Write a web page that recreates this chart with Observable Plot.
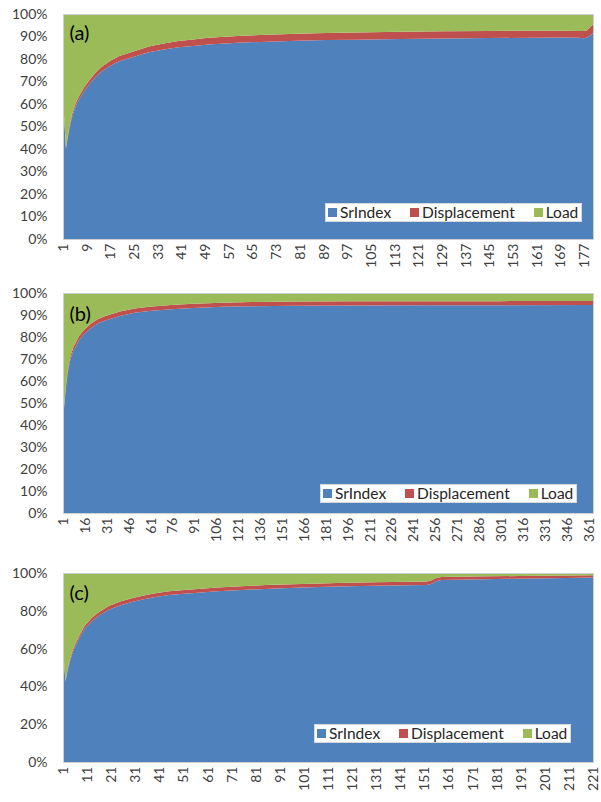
<!DOCTYPE html>
<html>
<head>
<meta charset="utf-8">
<script src="https://cdn.jsdelivr.net/npm/d3@7"></script>
<script src="https://cdn.jsdelivr.net/npm/@observablehq/plot@0.6"></script>
<style>
  html, body { margin: 0; padding: 0; background: #fff; }
  #chart { position: relative; width: 601px; font-family: Lato, "Open Sans", sans-serif; }
  .panel { position: relative; width: 601px; }
  .panel svg { display: block; }
  .legend {
    position: absolute; background: #fff; border: 1px solid #d9d9d9;
    display: flex; align-items: center; font-size: 15.5px; color: #262626;
    padding: 0 3px 0 2px; height: 17px; box-sizing: content-box; line-height: 17px;
  }
  .legend .item { display: flex; align-items: center; }
  .legend .sw { width: 9px; height: 9px; margin-right: 3px; }
</style>
</head>
<body>
<div id="chart"></div>
<script>
// Series drawn in every panel, bottom to top, with their fills
const series = ["SrIndex", "Displacement", "Load"];
const colors = ["#4f81bd", "#c0504d", "#9bbb59"];

// Panel (a): 180 steps, shares in percent at the listed steps
const idxA  = [1, 2, 3, 4, 5, 6, 8, 10, 12, 14, 17, 20, 25, 30, 35, 40, 45, 50, 60, 70, 80, 90, 100, 115, 130, 145, 160, 170, 175, 177, 178, 179, 180];
const srA   = [62, 40, 48, 54, 58, 61, 65.5, 69, 72, 74.5, 77, 79, 81, 83, 84.2, 85.2, 85.8, 86.4, 87.2, 87.7, 88.1, 88.4, 88.6, 88.9, 89.1, 89.3, 89.5, 89.6, 89.5, 89.2, 89.6, 90.5, 91.5];
const dispA = [0.5, 0.5, 1, 1.2, 1.3, 1.4, 1.6, 1.8, 1.9, 2.0, 2.2, 2.3, 2.5, 2.6, 2.7, 2.8, 2.9, 3.0, 3.0, 3.1, 3.1, 3.2, 3.2, 3.2, 3.2, 3.2, 3.1, 3.0, 3.0, 3.3, 3.2, 3.6, 3.8];
const ticksA = [1, 9, 17, 25, 33, 41, 49, 57, 65, 73, 81, 89, 97, 105, 113, 121, 129, 137, 145, 153, 161, 169, 177];

// Panel (b): 364 steps
const idxB  = [1, 2, 3, 4, 5, 6, 8, 10, 12, 15, 20, 25, 30, 40, 50, 60, 75, 90, 110, 130, 160, 200, 250, 300, 364];
const srB   = [42, 50, 57, 62.5, 66.5, 69.5, 73.5, 76, 78.5, 81, 84, 86.2, 87.5, 89.6, 91, 91.8, 92.6, 93.2, 93.7, 94.0, 94.2, 94.3, 94.4, 94.4, 94.5];
const dispB = [0.5, 0.8, 1.0, 1.2, 1.4, 1.5, 1.7, 1.8, 1.9, 2.0, 2.0, 2.0, 2.0, 2.0, 1.9, 1.9, 1.9, 1.9, 1.9, 1.9, 1.9, 1.9, 1.9, 1.9, 1.9];
const ticksB = [1, 16, 31, 46, 61, 76, 91, 106, 121, 136, 151, 166, 181, 196, 211, 226, 241, 256, 271, 286, 301, 316, 331, 346, 361];

// Panel (c): 221 steps
const idxC  = [1, 2, 3, 4, 5, 6, 8, 10, 13, 16, 20, 25, 30, 35, 40, 45, 50, 57, 65, 75, 85, 100, 115, 130, 145, 152, 154, 156, 158, 170, 190, 210, 221];
const srC   = [60, 42.5, 49, 54, 58, 61, 66, 70.5, 74.5, 77.5, 80.5, 83, 84.8, 86.2, 87.4, 88.3, 88.9, 89.6, 90.3, 91.0, 91.6, 92.3, 92.8, 93.2, 93.5, 93.6, 94.3, 95.8, 96.3, 96.6, 97.0, 97.4, 97.6];
const dispC = [0.3, 0.5, 0.8, 1.0, 1.1, 1.2, 1.4, 1.6, 1.8, 1.9, 2.0, 2.0, 2.0, 2.0, 2.0, 2.0, 2.0, 2.0, 2.0, 2.0, 2.0, 1.9, 1.9, 1.9, 1.9, 1.9, 1.8, 1.6, 1.6, 1.5, 1.4, 1.3, 1.2];
const ticksC = [1, 11, 21, 31, 41, 51, 61, 71, 81, 91, 101, 111, 121, 131, 141, 151, 161, 171, 181, 191, 201, 211, 221];

// Long table: Load is the remainder of each 100% column
function rowsFor(idx, sr, disp) {
  const rows = [];
  idx.forEach((i, k) => {
    rows.push({i, s: "SrIndex", v: sr[k]});
    rows.push({i, s: "Displacement", v: disp[k]});
    rows.push({i, s: "Load", v: 100 - sr[k] - disp[k]});
  });
  return rows;
}

const panels = [
  {tag: "(a)", idx: idxA, sr: srA, disp: dispA, ticks: ticksA, yTicks: d3.range(0, 1.001, 0.1),
   height: 270, top: 14, bottom: 31, tagDy: 19, legend: {left: 325, top: 203}},
  {tag: "(b)", idx: idxB, sr: srB, disp: dispB, ticks: ticksB, yTicks: d3.range(0, 1.001, 0.1),
   height: 280, top: 23, bottom: 37, tagDy: 21, legend: {left: 320, top: 214}},
  {tag: "(c)", idx: idxC, sr: srC, disp: dispC, ticks: ticksC, yTicks: d3.range(0, 1.001, 0.2),
   height: 252, top: 23, bottom: 40, tagDy: 20, legend: {left: 314, top: 174}}
];

const root = document.getElementById("chart");

for (const p of panels) {
  const rows = rowsFor(p.idx, p.sr, p.disp);
  const n = p.idx[p.idx.length - 1];
  const svg = Plot.plot({
    width: 601,
    height: p.height,
    marginLeft: 63,
    marginRight: 8,
    marginTop: p.top,
    marginBottom: p.bottom,
    style: {fontFamily: "Lato, 'Open Sans', sans-serif", fontSize: "14px", color: "#404040", background: "#fff", overflow: "visible"},
    x: {domain: [1, n], ticks: p.ticks, tickFormat: d => String(d), tickRotate: -90, tickSize: 0, tickPadding: 4, label: null},
    y: {domain: [0, 1], ticks: p.yTicks, tickFormat: d3.format(".0%"), tickSize: 0, tickPadding: 16, label: null},
    color: {domain: series, range: colors},
    marks: [
      Plot.areaY(rows, {x: "i", y: "v", z: "s", fill: "s", order: series, offset: "normalize"}),
      Plot.frame({stroke: "#d0d0d0", strokeWidth: 1}),
      Plot.text([p.tag], {frameAnchor: "top-left", dx: 6, dy: p.tagDy, lineAnchor: "middle", textAnchor: "start",
        fontSize: 20, fill: "#000"})
    ]
  });
  const wrap = document.createElement("div");
  wrap.className = "panel";
  wrap.appendChild(svg);

  const lg = document.createElement("div");
  lg.className = "legend";
  lg.style.left = p.legend.left + "px";
  lg.style.top = p.legend.top + "px";
  series.forEach((s, k) => {
    const it = document.createElement("span");
    it.className = "item";
    it.style.marginRight = k < series.length - 1 ? "19px" : "0";
    const sw = document.createElement("span");
    sw.className = "sw";
    sw.style.background = colors[k];
    const tx = document.createElement("span");
    tx.textContent = s;
    it.appendChild(sw);
    it.appendChild(tx);
    lg.appendChild(it);
  });
  wrap.appendChild(lg);
  root.appendChild(wrap);
}
</script>
</body>
</html>
